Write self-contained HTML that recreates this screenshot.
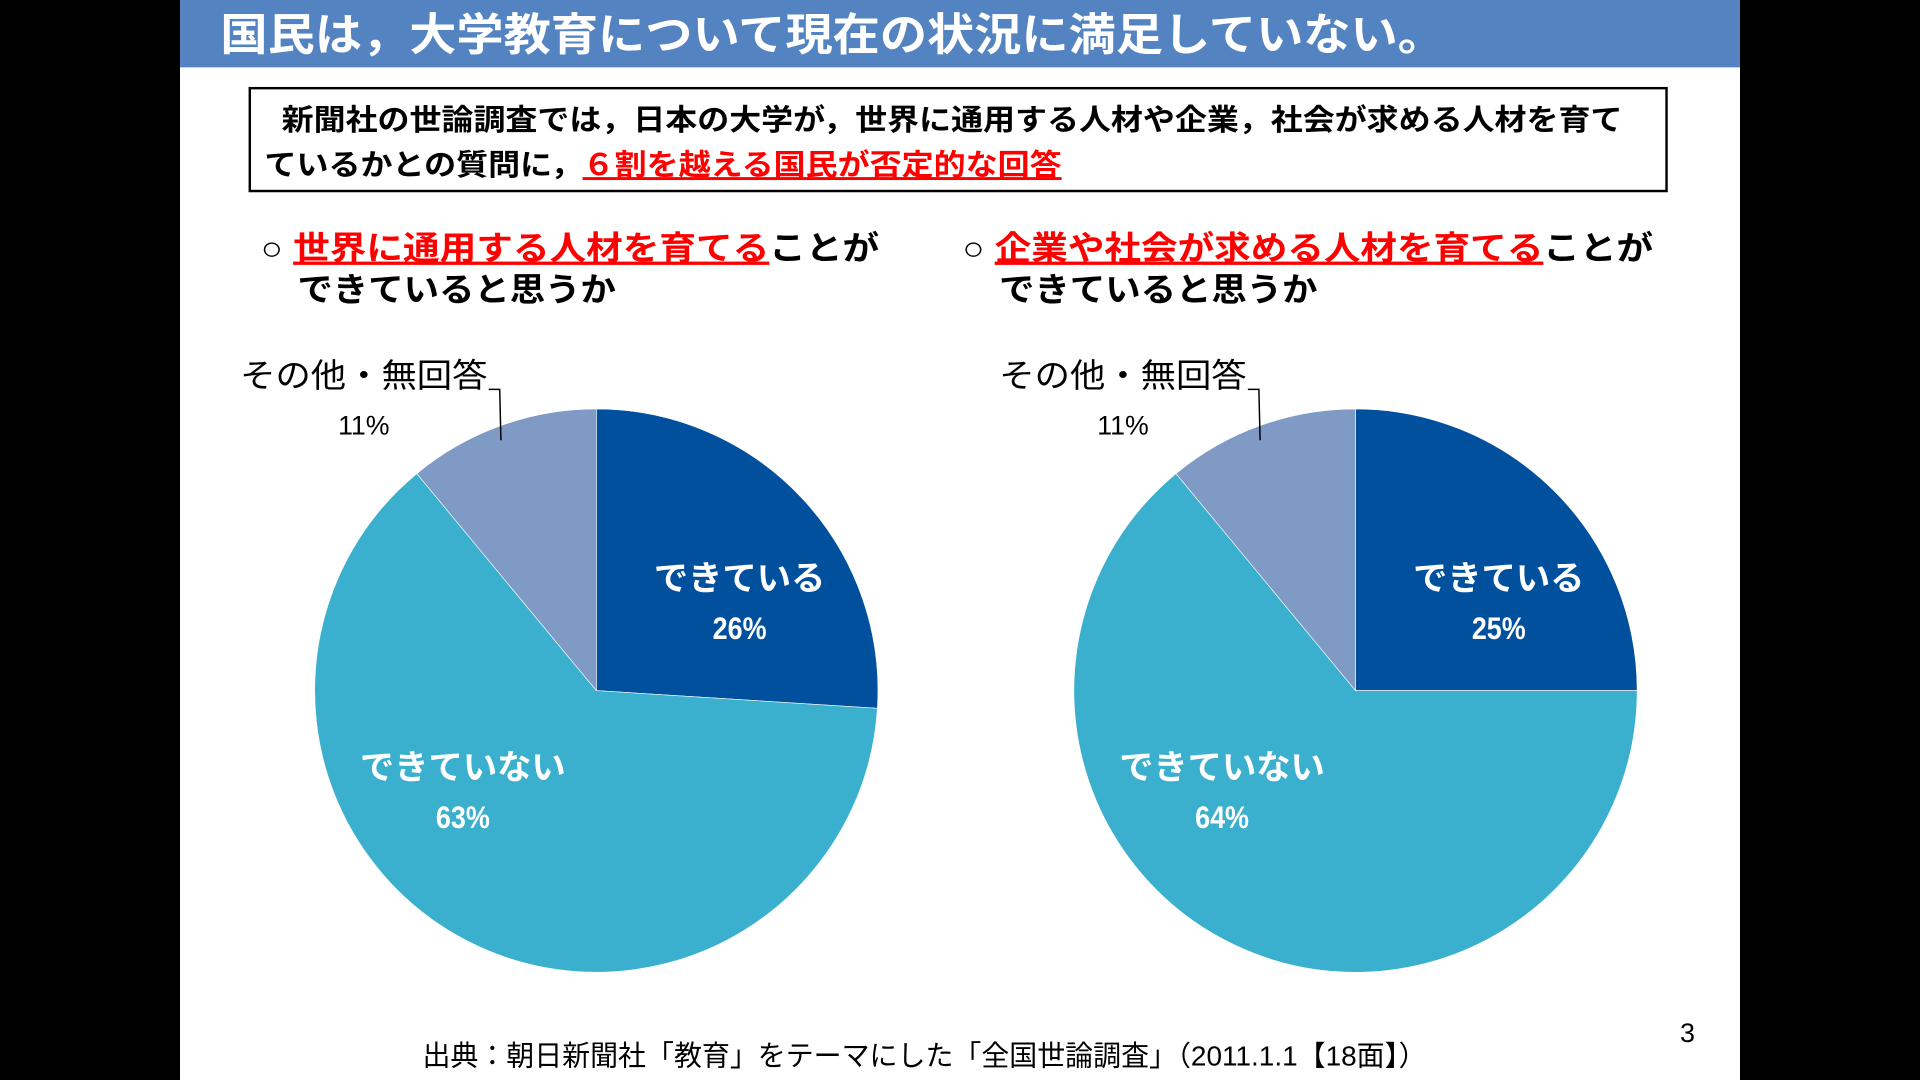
<!DOCTYPE html>
<html><head><meta charset="utf-8">
<style>
html,body{margin:0;padding:0;background:#000;width:1920px;height:1080px;overflow:hidden}
svg{display:block}
text{font-family:"Liberation Sans","Noto Sans CJK JP",sans-serif}
</style></head>
<body>
<svg id="chart" width="1920" height="1080" viewBox="0 0 1568 882" xmlns="http://www.w3.org/2000/svg">
<rect x="0" y="0" width="1568" height="882" fill="#000"/>
<rect x="147" y="0" width="1274" height="882" fill="#fff"/>
<rect x="147" y="0" width="1274" height="55" fill="#5383C0"/>
<text x="180" y="41" font-size="36" font-weight="bold" fill="#fff" textLength="1000" lengthAdjust="spacingAndGlyphs">国民は，大学教育について現在の状況に満足していない。</text>

<rect x="204" y="72" width="1157" height="84" fill="#fff" stroke="#000" stroke-width="2"/>
<text x="230" y="106" font-size="24" font-weight="bold" fill="#000" textLength="1095" lengthAdjust="spacingAndGlyphs">新聞社の世論調査では，日本の大学が，世界に通用する人材や企業，社会が求める人材を育て</text>
<text x="216" y="143" font-size="24" font-weight="bold" fill="#000" textLength="651" lengthAdjust="spacingAndGlyphs">ているかとの質問に，<tspan fill="#FF0000" text-decoration="underline">６割を越える国民が否定的な回答</tspan></text>

<text x="213" y="212" font-size="27" font-weight="bold" fill="#000" textLength="505" lengthAdjust="spacingAndGlyphs">○ <tspan fill="#FF0000" text-decoration="underline">世界に通用する人材を育てる</tspan>ことが</text>
<text x="243" y="246" font-size="27" font-weight="bold" fill="#000" textLength="260" lengthAdjust="spacingAndGlyphs">できていると思うか</text>
<text x="786" y="212" font-size="27" font-weight="bold" fill="#000" textLength="564" lengthAdjust="spacingAndGlyphs">○ <tspan fill="#FF0000" text-decoration="underline">企業や社会が求める人材を育てる</tspan>ことが</text>
<text x="816" y="246" font-size="27" font-weight="bold" fill="#000" textLength="260" lengthAdjust="spacingAndGlyphs">できていると思うか</text>

<g id="pies"></g>

<text x="345" y="870" font-size="23" fill="#000" textLength="820" lengthAdjust="spacingAndGlyphs">出典：朝日新聞社「教育」をテーマにした「全国世論調査」（2011.1.1【18面】）</text>
<text x="1372" y="851" font-size="22" fill="#000">3</text>
</svg>
<script>
const categories = ["できている", "できていない", "その他・無回答"];
const leftValues = [26, 63, 11];
const rightValues = [25, 64, 11];
const leftLabels = ["26%", "63%", "11%"];
const rightLabels = ["25%", "64%", "11%"];

const colors = ["#00509E", "#3BB0CE", "#7F9BC5"];
const labelOffsets = [[117, -94], [-109, 60]];
const NS = "http://www.w3.org/2000/svg";
const g = document.getElementById("pies");

function mk(tag, attrs, txt) {
  const e = document.createElementNS(NS, tag);
  for (const k in attrs) e.setAttribute(k, attrs[k]);
  if (txt !== undefined) e.textContent = txt;
  return e;
}
function pt(cx, cy, r, frac) {
  const a = frac * 2 * Math.PI;
  return [cx + r * Math.sin(a), cy - r * Math.cos(a)];
}
function drawPie(cx, cy, r, values, labels, side) {
  const total = values.reduce((a, b) => a + b, 0);
  let cum = 0;
  values.forEach((v, i) => {
    const f0 = cum / total, f1 = (cum + v) / total;
    const p0 = pt(cx, cy, r, f0), p1 = pt(cx, cy, r, f1);
    const large = (f1 - f0) > 0.5 ? 1 : 0;
    const path = mk("path", {
      d: `M${cx},${cy} L${p0[0]},${p0[1]} A${r},${r} 0 ${large} 1 ${p1[0]},${p1[1]} Z`,
      fill: colors[i], stroke: "#fff", "stroke-width": 0.5
    });
    
    
    g.appendChild(path);
    const mid = (f0 + f1) / 2;
    if (i < 2) {
      const lx = cx + labelOffsets[i][0], ly = cy + labelOffsets[i][1];
      const t1 = mk("text", {x: lx, y: ly + 12, "font-size": 28, "font-weight": "bold", fill: "#fff", "text-anchor": "middle"}, categories[i]);
      
      
      g.appendChild(t1);
      const t2 = mk("text", {x: lx, y: ly + 52, "font-size": 26, "font-weight": "bold", fill: "#fff", "text-anchor": "middle", textLength: 44, lengthAdjust: "spacingAndGlyphs"}, labels[i]);
      
      
      g.appendChild(t2);
    } else {
      const ep = pt(cx, cy, r, mid);
      const ly = cy - 246;
      const line = mk("polyline", {points: `${ep[0] - 10},${ly} ${ep[0]-1},${ly} ${ep[0]},${ep[1] + 12}`, fill: "none", stroke: "#000", "stroke-width": 1.2});
      
      
      g.appendChild(line);
      const t1 = mk("text", {x: ep[0] - 213, y: ly - 2, "font-size": 27, fill: "#000", textLength: 202, lengthAdjust: "spacingAndGlyphs"}, categories[i]);
      
      
      g.appendChild(t1);
      const t2 = mk("text", {x: ep[0] - 112, y: ly + 37, "font-size": 22, fill: "#000", "text-anchor": "middle", textLength: 42, lengthAdjust: "spacingAndGlyphs"}, labels[i]);
      
      
      g.appendChild(t2);
    }
    cum += v;
  });
}
drawPie(487, 564, 230, leftValues, leftLabels, "left");
drawPie(1107, 564, 230, rightValues, rightLabels, "right");
</script>
</body></html>
